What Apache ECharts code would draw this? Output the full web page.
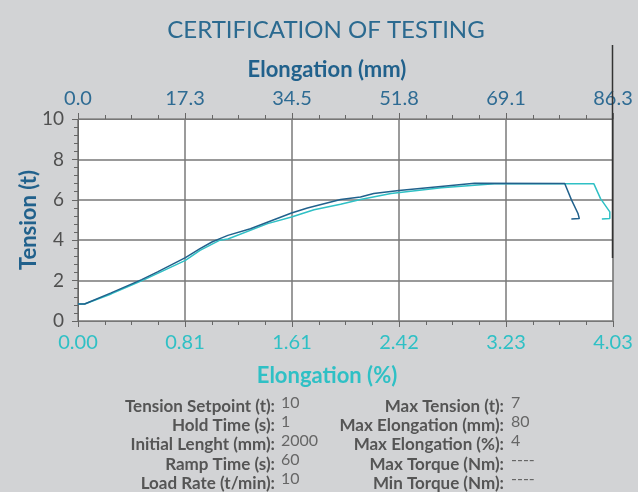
<!DOCTYPE html>
<html>
<head>
<meta charset="utf-8">
<script src="https://cdn.jsdelivr.net/npm/echarts@6/dist/echarts.min.js"></script>
<style>
  html, body { margin: 0; padding: 0; background: #d2d3d5; }
  #chart { width: 638px; height: 492px; }
</style>
</head>
<body>
<div id="chart"></div>
<script>
// axis ranges (the two x scales share the same pixel span)
const pctMax = 4.034;
const mmMax = 86.34;

// tension (t) vs elongation (%)
const testA = [[0, 0.84], [0.05, 0.84], [0.25, 1.39], [0.48, 2.05], [0.60, 2.43], [0.81, 3.14],
  [0.92, 3.58], [1.01, 3.91], [1.07, 4.08], [1.13, 4.24], [1.30, 4.57], [1.61, 5.35], [1.73, 5.59],
  [1.98, 6.01], [2.13, 6.14], [2.23, 6.31], [2.42, 6.46], [2.99, 6.82], [3.67, 6.81], [3.72, 6.01],
  [3.77, 5.32], [3.78, 5.07], [3.72, 5.05]];
const testB = [[0, 0.84], [0.05, 0.84], [0.25, 1.34], [0.40, 1.77], [0.50, 2.05], [0.81, 3.00],
  [0.92, 3.50], [1.07, 4.00], [1.13, 4.06], [1.43, 4.82], [1.61, 5.15], [1.78, 5.51], [1.98, 5.78],
  [2.13, 6.01], [2.36, 6.31], [2.74, 6.60], [3.14, 6.80], [3.89, 6.79], [3.94, 6.06], [4.01, 5.40],
  [4.01, 5.07], [3.95, 5.05]];

// summary table
const leftLabels = ['Tension Setpoint (t):', 'Hold Time (s):', 'Initial Lenght (mm):', 'Ramp Time (s):', 'Load Rate (t/min):'];
const leftValues = ['10', '1', '2000', '60', '10'];
const rightLabels = ['Max Tension (t):', 'Max Elongation (mm):', 'Max Elongation (%):', 'Max Torque (Nm):', 'Min Torque (Nm):'];
const rightValues = ['7', '80', '4', '----', '----'];

const FONT = 'Lato, "Open Sans", sans-serif';
const darkBlue = '#21618c';
const cyan = '#2fc0c5';

let chart = echarts.init(document.getElementById('chart'));

let graphics = [
  {
    type: 'text', x: 326, y: 30,
    style: { text: 'CERTIFICATION OF TESTING', font: '24px ' + FONT, fill: '#2b6a90', align: 'center', verticalAlign: 'middle' }
  },
  {
    type: 'line', z: 100,
    shape: { x1: 612.5, y1: 45, x2: 612.5, y2: 258 },
    style: { stroke: '#333', lineWidth: 1.5 }
  }
];
leftLabels.forEach((t, i) => {
  let y = 406.5 + i * 19.2;
  graphics.push({ type: 'text', x: 275, y: y, style: { text: t, font: 'bold 17px ' + FONT, fill: '#555', align: 'right', verticalAlign: 'middle' } });
  graphics.push({ type: 'text', x: 281, y: y - 4, style: { text: leftValues[i], font: '16px ' + FONT, fill: '#666', align: 'left', verticalAlign: 'middle' } });
  graphics.push({ type: 'text', x: 504, y: y, style: { text: rightLabels[i], font: 'bold 17px ' + FONT, fill: '#555', align: 'right', verticalAlign: 'middle' } });
  graphics.push({ type: 'text', x: 511, y: y - 4, style: { text: rightValues[i], font: '16px ' + FONT, fill: '#666', align: 'left', verticalAlign: 'middle' } });
});

let option = {
  backgroundColor: '#d2d3d5',
  animation: false,
  textStyle: { fontFamily: FONT },
  grid: {
    left: 78, right: 25, top: 119, bottom: 171,
    show: true, backgroundColor: '#fff', borderColor: '#9a9a9a', borderWidth: 1
  },
  xAxis: [
    {
      type: 'value', position: 'bottom',
      min: 0, max: pctMax, interval: pctMax / 5,
      name: 'Elongation (%)', nameLocation: 'middle', nameGap: 44,
      nameTextStyle: { color: cyan, fontSize: 22, fontWeight: 'bold', padding: [0, 37, 0, 0] },
      axisLine: { show: true, lineStyle: { color: '#777', width: 1 } },
      axisTick: { show: true, length: 6, lineStyle: { color: '#666' } },
      minorTick: { show: true, splitNumber: 4, length: 4, lineStyle: { color: '#666' } },
      axisLabel: { color: cyan, fontSize: 20, margin: 12, formatter: v => v.toFixed(2) },
      splitLine: { show: true, lineStyle: { color: '#7a7a7a', width: 1.5 } }
    },
    {
      type: 'value', position: 'top',
      min: 0, max: mmMax, interval: mmMax / 5,
      name: 'Elongation (mm)', nameLocation: 'middle', nameGap: 38,
      nameTextStyle: { color: darkBlue, fontSize: 22, fontWeight: 'bold', padding: [0, 37, 0, 0] },
      axisLine: { show: true, lineStyle: { color: '#777', width: 1 } },
      axisTick: { show: true, length: 6, lineStyle: { color: '#666' } },
      minorTick: { show: true, splitNumber: 4, length: 4, lineStyle: { color: '#666' } },
      axisLabel: { color: '#2e6b93', fontSize: 20, margin: 10, formatter: v => v.toFixed(1) },
      splitLine: { show: false }
    }
  ],
  yAxis: {
    type: 'value', min: 0, max: 10, interval: 2,
    name: 'Tension (t)', nameLocation: 'middle', nameGap: 38, nameRotate: 90,
    nameMoveOverlap: false,
    nameTextStyle: { color: darkBlue, fontSize: 22, fontWeight: 'bold' },
    axisLine: { show: true, lineStyle: { color: '#666', width: 1 } },
    axisTick: { show: true, length: 6, lineStyle: { color: '#666' } },
    minorTick: { show: true, splitNumber: 5, length: 4, lineStyle: { color: '#666' } },
    axisLabel: { color: '#505050', fontSize: 19, margin: 14 },
    splitLine: { show: true, lineStyle: { color: '#999', width: 2 } }
  },
  series: [
    {
      type: 'line', xAxisIndex: 0, data: testB, showSymbol: false,
      lineStyle: { color: cyan, width: 1.5 }, z: 3
    },
    {
      type: 'line', xAxisIndex: 0, data: testA, showSymbol: false,
      lineStyle: { color: darkBlue, width: 1.5 }, z: 4
    }
  ],
  graphic: graphics
};

chart.setOption(option);
</script>
</body>
</html>
